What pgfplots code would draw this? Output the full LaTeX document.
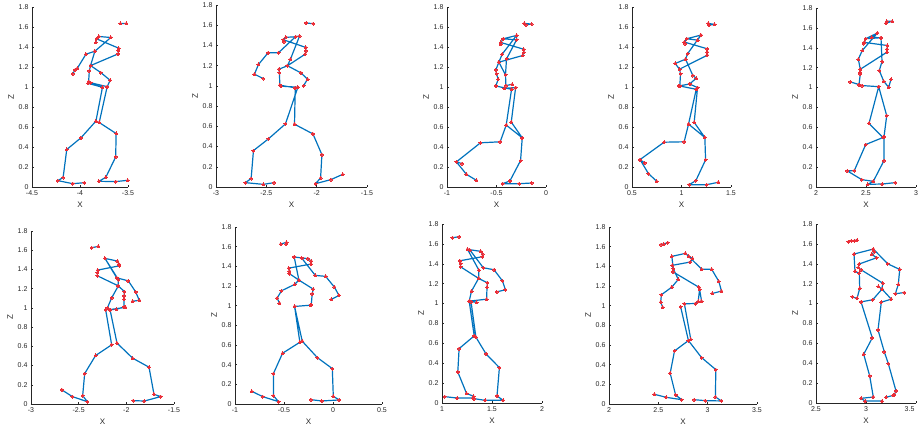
\documentclass[border=0pt]{standalone}
\usepackage{fontspec}
\setmainfont{Liberation Sans}
\usepackage{pgfplots}
\pgfplotsset{compat=1.18}
\definecolor{mblue}{RGB}{0,114,189}
\definecolor{mred}{RGB}{235,45,55}
\definecolor{axgray}{RGB}{38,38,38}
\pgfplotsset{
  skel/.style={
    scale only axis, axis lines=left,
    axis line style={-, draw=axgray, line width=0.6pt},
    ymin=0, ymax=1.8,
    ytick={0,0.2,0.4,0.6,0.8,1,1.2,1.4,1.6,1.8},
    tick align=inside, major tick length=2pt,
    tick style={draw=axgray, line width=0.5pt},
    xlabel={X}, ylabel={Z},
    clip=false, unbounded coords=jump,
    ticklabel style={font=\fontsize{7}{8}\selectfont, text=axgray},
    label style={font=\fontsize{8}{9}\selectfont, text=axgray},
    xlabel style={yshift=0pt},
    ylabel style={yshift=-2pt},
    /pgf/number format/assume math mode=true,
    anchor=south west,
  },
  bone/.style={color=mblue, line width=1.2pt, line join=round,
    mark=*, mark size=1.5pt, mark options={draw=mred, fill=mred, line width=0pt}},
}
\begin{document}
\begin{tikzpicture}
\useasboundingbox (0,0) rectangle (918pt,426pt);
% ---------- Panel 1
\begin{axis}[skel, at={(32pt,239pt)}, width=96pt, height=180pt,
  xmin=-4.5, xmax=-3.5, xtick={-4.5,-4,-3.5}]
\addplot[bone] coordinates {
(-3.579,1.635) (-3.517,1.635) (nan,nan)
(-3.834,1.445) (-3.828,1.482) (-3.803,1.505) (-3.679,1.495) (-3.845,1.358) (nan,nan)
(-3.828,1.482) (-3.597,1.388) (-3.603,1.365) (-3.603,1.331) (-3.890,1.214) (nan,nan)
(-3.845,1.358) (-3.938,1.328) (-4.028,1.187) (-4.052,1.171) (-4.076,1.130) (nan,nan)
(-3.845,1.358) (-3.890,1.214) (-3.903,1.161) (-3.910,1.054) (-3.917,1.037) (-3.766,0.997) (nan,nan)
(-3.890,1.214) (-3.783,1.144) (-3.686,1.067) (-3.717,1.003) (-3.890,1.043) (nan,nan)
(-3.766,0.997) (-3.834,0.659) (-3.990,0.492) (-4.138,0.375) (-4.176,0.094) (-4.231,0.064) (-4.076,0.033) (-3.955,0.043) (nan,nan)
(-3.717,1.003) (-3.800,0.645) (-3.624,0.535) (-3.628,0.301) (-3.731,0.097) (-3.803,0.057) (-3.628,0.054) (-3.503,0.067)
};
\end{axis}
% ---------- Panel 2
\begin{axis}[skel, at={(216pt,239pt)}, width=151pt, height=182pt,
  xmin=-3, xmax=-1.5, xtick={-3,-2.5,-2,-1.5}]
\addplot[bone] coordinates {
(-2.104,1.622) (-2.034,1.615) (nan,nan)
(-2.326,1.437) (-2.330,1.456) (-2.306,1.480) (-2.210,1.486) (-2.379,1.328) (-2.482,1.328) (-2.578,1.212) (-2.618,1.116) (-2.532,1.073) (nan,nan)
(-2.330,1.456) (-2.107,1.380) (-2.107,1.347) (-2.114,1.314) (-2.290,1.199) (nan,nan)
(-2.210,1.486) (-2.170,1.493) (-2.260,1.265) (-2.290,1.199) (nan,nan)
(-2.290,1.199) (-2.373,1.166) (-2.370,1.129) (-2.366,1.007) (-2.353,0.997) (-2.187,0.987) (nan,nan)
(-2.290,1.199) (-2.157,1.129) (-2.091,1.067) (-2.130,1.001) (nan,nan)
(-2.366,1.007) (-2.213,0.981) (nan,nan)
(-2.187,0.987) (-2.310,0.624) (-2.479,0.476) (-2.628,0.360) (-2.651,0.083) (-2.708,0.043) (-2.529,0.026) (-2.423,0.043) (nan,nan)
(-2.213,0.981) (-2.220,0.621) (-2.037,0.525) (-1.948,0.320) (-1.961,0.089) (-2.011,0.033) (-1.858,0.073) (-1.742,0.125)
};
\end{axis}
% ---------- Panel 3
\begin{axis}[skel, at={(447pt,239pt)}, width=99pt, height=180pt,
  xmin=-1, xmax=0, xtick={-1,-0.5,0}]
\addplot[bone] coordinates {
(-0.220,1.636) (-0.145,1.629) (-0.203,1.623) (nan,nan)
(-0.459,1.429) (-0.456,1.445) (-0.432,1.482) (-0.297,1.516) (-0.443,1.328) (-0.476,1.248) (nan,nan)
(-0.297,1.516) (-0.297,1.472) (-0.432,1.482) (nan,nan)
(-0.456,1.445) (-0.226,1.378) (-0.223,1.345) (-0.236,1.315) (-0.476,1.248) (nan,nan)
(-0.297,1.472) (-0.399,1.281) (-0.409,1.121) (nan,nan)
(-0.476,1.248) (-0.507,1.171) (-0.500,1.131) (-0.483,1.077) (-0.507,1.010) (-0.348,0.977) (nan,nan)
(-0.476,1.248) (-0.409,1.121) (-0.405,1.014) (-0.341,1.027) (nan,nan)
(-0.422,0.987) (-0.307,0.994) (nan,nan)
(-0.348,0.977) (-0.402,0.619) (-0.463,0.452) (-0.662,0.442) (-0.905,0.251) (-0.848,0.234) (nan,nan)
(-0.905,0.251) (-0.804,0.127) (-0.703,0.067) (nan,nan)
(-0.402,0.619) (-0.240,0.492) (nan,nan)
(-0.307,0.994) (-0.351,0.649) (-0.240,0.492) (-0.257,0.264) (-0.365,0.060) (-0.439,0.033) (-0.270,0.033) (-0.145,0.040)
};
\end{axis}
% ---------- Panel 4
\begin{axis}[skel, at={(632pt,239pt)}, width=99pt, height=180pt,
  xmin=0.5, xmax=1.5, xtick={0.5,1,1.5}]
\addplot[bone] coordinates {
(1.270,1.636) (1.334,1.626) (1.277,1.619) (nan,nan)
(1.037,1.432) (1.030,1.449) (1.051,1.482) (1.196,1.519) (1.162,1.469) (1.051,1.482) (nan,nan)
(1.196,1.519) (1.061,1.332) (nan,nan)
(1.030,1.449) (1.260,1.382) (1.260,1.348) (1.260,1.318) (0.980,1.178) (nan,nan)
(1.061,1.332) (1.041,1.278) (0.936,1.235) (0.980,1.178) (0.990,1.131) (0.983,1.010) (1.149,0.977) (nan,nan)
(1.041,1.278) (1.115,1.114) (1.149,1.087) (1.081,1.030) (0.973,1.010) (nan,nan)
(1.081,1.030) (1.162,0.994) (nan,nan)
(1.149,0.977) (1.071,0.629) (1.027,0.452) (0.824,0.448) (0.581,0.274) (0.628,0.241) (nan,nan)
(0.581,0.274) (0.666,0.134) (0.750,0.057) (nan,nan)
(1.071,0.629) (1.236,0.495) (nan,nan)
(1.162,0.994) (1.128,0.646) (1.236,0.495) (1.243,0.271) (1.145,0.064) (1.078,0.023) (1.253,0.023) (1.372,0.047)
};
\end{axis}
% ---------- Panel 5
\begin{axis}[skel, at={(816pt,239pt)}, width=100pt, height=179pt,
  xmin=2, xmax=3, xtick={2,2.5,3}]
\addplot[bone] coordinates {
(2.707,1.666) (2.763,1.666) (2.700,1.649) (nan,nan)
(2.477,1.443) (2.483,1.454) (2.497,1.491) (2.613,1.548) (2.557,1.504) (2.650,1.501) (2.660,1.262) (nan,nan)
(2.497,1.491) (2.650,1.501) (nan,nan)
(2.613,1.548) (2.463,1.373) (2.423,1.285) (2.443,1.184) (nan,nan)
(2.483,1.454) (2.713,1.423) (2.710,1.386) (2.710,1.356) (2.443,1.184) (nan,nan)
(2.660,1.262) (2.633,1.171) (2.677,1.063) (2.727,1.003) (2.750,1.083) (nan,nan)
(2.443,1.184) (2.440,1.154) (2.443,1.137) (2.430,1.030) (2.343,1.057) (nan,nan)
(2.430,1.030) (2.460,1.020) (2.627,1.009) (nan,nan)
(2.627,1.009) (2.707,0.717) (2.680,0.505) (2.670,0.498) (2.497,0.427) (2.383,0.165) (2.313,0.162) (2.457,0.074) (2.573,0.057) (nan,nan)
(2.627,1.009) (2.530,0.639) (2.670,0.498) (nan,nan)
(2.680,0.505) (2.680,0.266) (2.573,0.057) (2.517,0.027) (2.663,0.030) (2.793,0.044)
};
\end{axis}
% ---------- Panel 6
\begin{axis}[skel, at={(31pt,22pt)}, width=143pt, height=173pt,
  xmin=-3, xmax=-1.5, xtick={-3,-2.5,-2,-1.5}]
\addplot[bone] coordinates {
(-2.364,1.626) (-2.294,1.640) (nan,nan)
(-2.224,1.515) (-2.094,1.487) (-2.077,1.455) (-2.073,1.438) (-2.301,1.393) (-2.304,1.365) (-2.304,1.334) (-2.084,1.229) (nan,nan)
(-2.224,1.515) (-2.101,1.313) (-1.979,1.281) (-1.902,1.166) (-1.864,1.079) (-1.934,1.069) (nan,nan)
(-2.224,1.515) (-2.084,1.295) (-2.084,1.229) (nan,nan)
(-2.084,1.229) (-2.021,1.170) (-2.024,1.125) (-2.024,1.090) (-2.024,1.010) (-2.105,0.985) (-2.217,0.982) (nan,nan)
(-2.084,1.229) (-2.154,1.104) (-2.199,0.999) (-2.171,0.982) (-2.010,1.006) (nan,nan)
(-2.217,0.982) (-2.154,0.616) (-2.322,0.505) (-2.437,0.317) (-2.458,0.087) (-2.409,0.024) (-2.566,0.077) (-2.675,0.146) (nan,nan)
(-2.171,0.982) (-2.098,0.634) (-1.934,0.477) (-1.762,0.383) (-1.710,0.101) (-1.640,0.077) (-1.811,0.031) (-1.927,0.035)
};
\end{axis}
% ---------- Panel 7
\begin{axis}[skel, at={(235pt,22pt)}, width=147pt, height=177pt,
  xmin=-1, xmax=0.5, xtick={-1,-0.5,0,0.5}]
\addplot[bone] coordinates {
(-0.532,1.627) (-0.474,1.644) (-0.478,1.627) (nan,nan)
(-0.396,1.495) (-0.256,1.478) (-0.222,1.454) (-0.225,1.423) (-0.451,1.382) (-0.444,1.352) (-0.444,1.325) (-0.348,1.260) (nan,nan)
(-0.396,1.495) (-0.348,1.260) (-0.392,1.216) (-0.526,1.151) (-0.570,1.077) (-0.546,1.026) (nan,nan)
(-0.320,1.485) (-0.181,1.308) (-0.075,1.298) (0.014,1.189) (0.061,1.104) (-0.020,1.063) (nan,nan)
(-0.348,1.260) (-0.201,1.168) (-0.212,1.121) (-0.222,1.009) (-0.229,1.005) (-0.392,0.992) (nan,nan)
(-0.392,0.992) (-0.338,0.628) (-0.515,0.516) (-0.608,0.309) (-0.608,0.085) (-0.556,0.024) (-0.717,0.075) (-0.829,0.129) (nan,nan)
(-0.392,0.992) (-0.314,0.639) (-0.160,0.472) (-0.007,0.360) (0.003,0.078) (0.065,0.041) (-0.116,0.031) (-0.225,0.044)
};
\end{axis}
% ---------- Panel 8
\begin{axis}[skel, at={(442pt,23pt)}, width=100pt, height=179pt,
  xmin=1, xmax=2, xtick={1,1.5,2}]
\addplot[bone] coordinates {
(1.104,1.662) (1.171,1.672) (nan,nan)
(1.255,1.545) (1.386,1.525) (1.406,1.498) (1.403,1.471) (1.178,1.430) (1.185,1.404) (1.185,1.370) (1.366,1.253) (nan,nan)
(1.255,1.545) (1.369,1.336) (1.366,1.253) (nan,nan)
(1.279,1.538) (1.413,1.360) (1.520,1.340) (1.604,1.229) (1.634,1.138) (1.547,1.118) (nan,nan)
(1.366,1.253) (1.453,1.209) (1.450,1.162) (1.446,1.044) (1.272,1.024) (nan,nan)
(1.366,1.253) (1.295,1.125) (1.272,1.024) (1.322,0.675) (nan,nan)
(1.272,1.024) (1.346,1.011) (nan,nan)
(1.290,1.020) (1.339,0.662) (nan,nan)
(1.322,0.675) (1.171,0.547) (1.158,0.312) (1.245,0.097) (1.315,0.067) (1.312,0.050) (1.151,0.050) (1.027,0.064) (nan,nan)
(1.339,0.662) (1.440,0.494) (1.574,0.356) (1.550,0.071) (1.611,0.027) (1.430,0.027) (1.319,0.044)
};
\end{axis}
% ---------- Panel 9
\begin{axis}[skel, at={(609pt,22pt)}, width=148pt, height=177pt,
  xmin=2, xmax=3.5, xtick={2,2.5,3,3.5}]
\addplot[bone] coordinates {
(2.527,1.620) (2.596,1.641) (2.555,1.627) (nan,nan)
(2.637,1.501) (2.774,1.532) (2.808,1.501) (2.846,1.481) (2.825,1.444) (2.640,1.410) (2.651,1.376) (2.647,1.345) (2.908,1.189) (nan,nan)
(2.637,1.501) (2.651,1.376) (2.702,1.267) (2.637,1.189) (2.531,1.111) (2.524,1.036) (2.545,0.982) (nan,nan)
(2.808,1.501) (2.938,1.372) (3.041,1.369) (3.113,1.247) (3.140,1.148) (3.045,1.124) (nan,nan)
(2.908,1.189) (2.918,1.165) (2.904,1.043) (2.877,1.022) (2.764,1.019) (nan,nan)
(2.918,1.165) (2.938,1.046) (2.877,1.022) (nan,nan)
(2.726,0.988) (2.805,0.645) (nan,nan)
(2.764,1.019) (2.829,0.656) (nan,nan)
(2.805,0.645) (2.664,0.540) (2.620,0.313) (2.675,0.092) (2.736,0.044) (2.579,0.068) (2.459,0.099) (nan,nan)
(2.805,0.645) (2.938,0.472) (3.082,0.350) (3.079,0.071) (3.140,0.031) (2.976,0.034) (2.863,0.044)
};
\end{axis}
% ---------- Panel 10
\begin{axis}[skel, at={(816pt,23pt)}, width=100pt, height=179pt,
  xmin=2.5, xmax=3.5, xtick={2.5,3},
  extra x ticks={3.5}, extra x tick labels={3.5},
  extra x tick style={tick label style={anchor=north east, xshift=2pt}}]
\addplot[bone] coordinates {
(2.823,1.622) (2.853,1.632) (2.883,1.632) (2.910,1.639) (nan,nan)
(2.880,1.498) (3.073,1.548) (3.083,1.521) (3.057,1.494) (3.107,1.461) (nan,nan)
(2.880,1.498) (2.890,1.323) (2.933,1.306) (2.937,1.152) (2.910,1.051) (2.863,1.068) (nan,nan)
(3.107,1.461) (2.930,1.397) (2.923,1.363) (2.950,1.340) (3.167,1.205) (3.160,1.145) (3.123,1.172) (nan,nan)
(3.073,1.548) (3.217,1.400) (3.337,1.343) (3.323,1.192) (3.293,1.098) (3.383,1.111) (nan,nan)
(3.160,1.145) (3.253,1.044) (3.153,1.014) (3.120,0.735) (3.183,0.514) (3.223,0.396) (3.300,0.121) (3.283,0.084) (3.270,0.077) (3.200,0.057) (nan,nan)
(3.160,1.145) (3.067,1.038) (2.950,1.017) (3.063,0.655) (2.977,0.490) (3.037,0.272) (3.073,0.060) (2.950,0.047) (2.990,0.020) (3.160,0.020)
};
\end{axis}
\end{tikzpicture}
\end{document}
